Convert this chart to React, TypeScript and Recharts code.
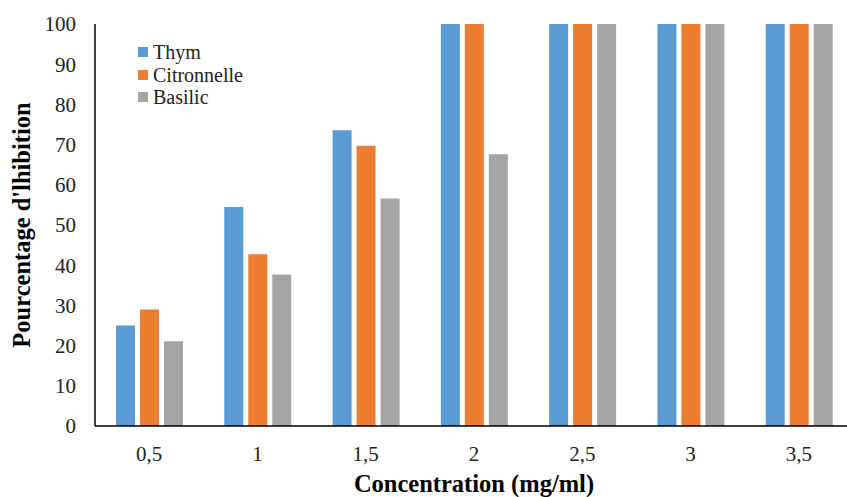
import { BarChart, Bar, XAxis, YAxis, Legend } from 'recharts';

const concentrations = ['0,5', '1', '1,5', '2', '2,5', '3', '3,5'];
const thym = [25, 54.5, 73.6, 100, 100, 100, 100];
const citronnelle = [29, 42.7, 69.7, 100, 100, 100, 100];
const basilic = [21.1, 37.7, 56.6, 67.6, 100, 100, 100];
const yTicks = [0, 10, 20, 30, 40, 50, 60, 70, 80, 90, 100];
const bandTicks = [0, 0.5, 1, 1.5, 2, 2.5, 3, 3.5, 4, 4.5, 5, 5.5, 6, 6.5, 7];

const SERIES = [
  { key: 'thym', name: 'Thym', color: '#5B9BD5' },
  { key: 'citronnelle', name: 'Citronnelle', color: '#ED7D31' },
  { key: 'basilic', name: 'Basilic', color: '#A5A5A5' },
];

const FONT = '"Liberation Serif", "Times New Roman", serif';

const data = concentrations.map((c, i) => ({
  concentration: c,
  thym: thym[i],
  citronnelle: citronnelle[i],
  basilic: basilic[i],
}));

// legend drawn as a small html block, like the excel one in the top-left corner
const renderLegend = () => (
  <div style={{ fontFamily: FONT, fontSize: 20, color: '#222', lineHeight: '22.5px' }}>
    {SERIES.map((s) => (
      <div key={s.key} style={{ display: 'flex', alignItems: 'center', height: 22.5 }}>
        <span style={{ width: 10, height: 10, background: s.color, marginRight: 5, display: 'inline-block' }} />
        <span>{s.name}</span>
      </div>
    ))}
  </div>
);

export default function App() {
  return (
    <div style={{ position: 'absolute', left: 0, top: 0, width: 847, height: 497, overflow: 'hidden', background: '#fff' }}>
      <BarChart
        width={870}
        height={497}
        data={data}
        margin={{ top: 24, right: 17, bottom: 0, left: 0 }}
        barSize={19}
        barGap={5}
      >
        <XAxis
          dataKey="concentration"
          height={71}
          axisLine={{ stroke: '#000', strokeWidth: 1.5 }}
          tickLine={false}
          tickSize={0}
          tickMargin={20}
          tick={{ fill: '#222', fontSize: 21, fontFamily: FONT }}
          label={{
            value: 'Concentration (mg/ml)',
            position: 'insideBottom',
            offset: 5,
            style: { fill: '#000', fontSize: 24.5, fontWeight: 'bold', fontFamily: FONT },
          }}
        />
        <XAxis
          xAxisId="band"
          type="number"
          domain={[0, 7]}
          ticks={bandTicks}
          allowDataOverflow
          mirror
          height={6}
          axisLine={false}
          tick={false}
          tickSize={6}
          tickLine={{ stroke: '#000', strokeWidth: 1.2 }}
        />
        <YAxis
          width={95}
          domain={[0, 100]}
          ticks={yTicks}
          allowDataOverflow
          axisLine={{ stroke: '#000', strokeWidth: 1.5 }}
          tickLine={false}
          tickSize={0}
          tickMargin={19}
          tick={{ fill: '#222', fontSize: 21, fontFamily: FONT }}
          label={{
            value: "Pourcentage d'lhibition",
            angle: -90,
            position: 'insideLeft',
            offset: 21,
            style: { textAnchor: 'middle', fill: '#000', fontSize: 24.5, fontWeight: 'bold', fontFamily: FONT },
          }}
        />
        <YAxis
          yAxisId="inner"
          domain={[0, 100]}
          ticks={yTicks}
          allowDataOverflow
          mirror
          width={5}
          axisLine={false}
          tick={false}
          tickSize={5}
          tickLine={{ stroke: '#000', strokeWidth: 1.2 }}
        />
        <Legend
          layout="vertical"
          align="center"
          verticalAlign="middle"
          content={renderLegend}
          wrapperStyle={{ left: 138, top: 41, width: 160, height: 70 }}
        />
        {SERIES.map((s) => (
          <Bar
            key={s.key}
            dataKey={s.key}
            name={s.name}
            fill={s.color}
            isAnimationActive={false}
          />
        ))}
      </BarChart>
    </div>
  );
}
